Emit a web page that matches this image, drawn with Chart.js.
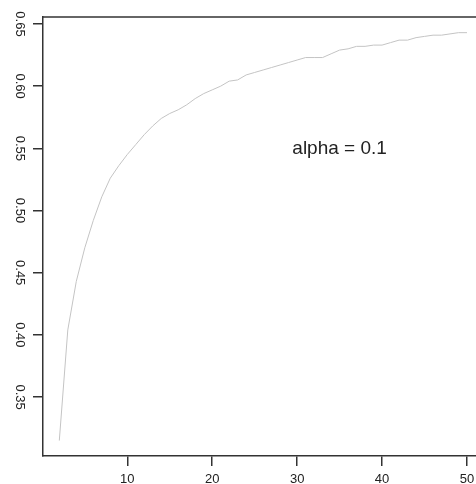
<!DOCTYPE html>
<html>
<head>
<meta charset="utf-8">
<script src="https://cdn.jsdelivr.net/npm/chart.js@4.4.1/dist/chart.umd.min.js"></script>
<style>
  html, body { margin: 0; padding: 0; background: #fff; overflow: hidden; }
  #wrap { width: 476px; height: 484px; }
</style>
</head>
<body>
<div id="wrap"><canvas id="alphaChart"></canvas></div>
<script>
// n from 2 to 50
const nValues = [2, 3, 4, 5, 6, 7, 8, 9, 10, 11, 12, 13, 14, 15, 16, 17, 18, 19, 20,
    21, 22, 23, 24, 25, 26, 27, 28, 29, 30, 31, 32, 33, 34, 35, 36, 37, 38, 39, 40,
    41, 42, 43, 44, 45, 46, 47, 48, 49, 50];
const curveValues = [0.315, 0.404, 0.443, 0.470, 0.492, 0.511, 0.526, 0.536, 0.545, 0.553,
    0.561, 0.568, 0.574, 0.578, 0.581, 0.585, 0.590, 0.594, 0.597, 0.600,
    0.604, 0.605, 0.609, 0.611, 0.613, 0.615, 0.617, 0.619, 0.621, 0.623,
    0.623, 0.623, 0.626, 0.629, 0.630, 0.632, 0.632, 0.633, 0.633, 0.635,
    0.637, 0.637, 0.639, 0.640, 0.641, 0.641, 0.642, 0.643, 0.643];
const xTicks = [10, 20, 30, 40, 50];
const yTicks = [0.35, 0.40, 0.45, 0.50, 0.55, 0.60, 0.65];
const noteText = 'alpha = 0.1';
const notePos = { x: 35, y: 0.55 };

const axisColor = '#333333';
const tickFont = { family: 'Liberation Sans, Arial, sans-serif', size: 13 };

// top edge of the box + the alpha label
const boxAndNote = {
    id: 'boxAndNote',
    afterDraw(chart) {
        const ctx = chart.ctx;
        const a = chart.chartArea;
        ctx.save();
        ctx.strokeStyle = axisColor;
        ctx.lineWidth = 1.5;
        ctx.beginPath();
        ctx.moveTo(a.left, a.top);
        ctx.lineTo(a.right, a.top);
        ctx.stroke();
        ctx.fillStyle = '#222';
        ctx.font = '19px "Liberation Sans", Arial, sans-serif';
        ctx.textAlign = 'center';
        ctx.textBaseline = 'middle';
        ctx.fillText(noteText,
            chart.scales.x.getPixelForValue(notePos.x),
            chart.scales.y.getPixelForValue(notePos.y));
        ctx.restore();
    }
};

const cctx = document.getElementById('alphaChart').getContext('2d');
const alphaChart = new Chart(cctx, {
    type: 'line',
    data: {
        datasets: [
            {
                data: nValues.map((n, i) => ({ x: n, y: curveValues[i] })),
                borderColor: '#c4c4c4',
                borderWidth: 1,
                pointRadius: 0,
                tension: 0,
                fill: false
            }
        ]
    },
    options: {
        responsive: true,
        maintainAspectRatio: false,
        animation: false,
        layout: { padding: { top: 17, left: 0, right: 0, bottom: 0 } },
        plugins: {
            legend: { display: false },
            tooltip: { enabled: false }
        },
        scales: {
            x: {
                type: 'linear',
                min: 0.08,
                max: 51.06,
                afterBuildTicks: (s) => { s.ticks = xTicks.map(v => ({ value: v })); },
                afterFit: (s) => { s.height = 28; s.paddingLeft = 0; s.paddingRight = 0; },
                border: { display: true, color: axisColor, width: 1.5 },
                grid: { drawOnChartArea: false, drawTicks: true, tickLength: 10, color: axisColor, lineWidth: 1.5 },
                ticks: { color: '#222', font: tickFont, padding: 6, maxRotation: 0, autoSkip: false }
            },
            y: {
                type: 'linear',
                min: 0.3026,
                max: 0.6556,
                afterBuildTicks: (s) => { s.ticks = yTicks.map(v => ({ value: v })); },
                afterFit: (s) => { s.width = 43; s.paddingTop = 0; s.paddingBottom = 0; },
                border: { display: true, color: axisColor, width: 1.5 },
                grid: { drawOnChartArea: false, drawTicks: true, tickLength: 10, color: axisColor, lineWidth: 1.5 },
                ticks: {
                    color: '#222', font: tickFont, padding: 1, autoSkip: false,
                    minRotation: -90, maxRotation: -90, crossAlign: 'center',
                    callback: (v) => v.toFixed(2)
                }
            }
        }
    },
    plugins: [boxAndNote]
});
</script>
</body>
</html>
